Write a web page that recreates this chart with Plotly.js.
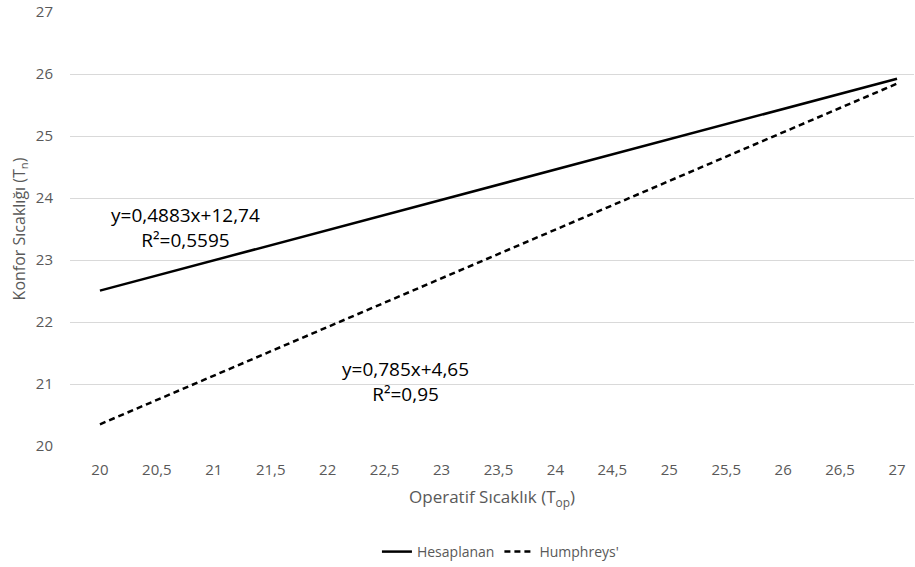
<!DOCTYPE html>
<html>
<head>
<meta charset="utf-8">
<script src="https://cdn.plot.ly/plotly-3.0.1.min.js"></script>
<style>html,body{margin:0;padding:0;background:#fff;}#chart{width:915px;height:567px;}</style>
</head>
<body>
<div id="chart"></div>
<script>
const xValues = [20, 27];
const hesaplanan = [22.506, 25.924];
const humphreys = [20.35, 25.845];
const xTickVals = [20, 20.5, 21, 21.5, 22, 22.5, 23, 23.5, 24, 24.5, 25, 25.5, 26, 26.5, 27];
const xTickText = ["20","20,5","21","21,5","22","22,5","23","23,5","24","24,5","25","25,5","26","26,5","27"];
const yTickVals = [20, 21, 22, 23, 24, 25, 26, 27];
const seriesNames = ["Hesaplanan", "Humphreys'"];
const eqHes = "y=0,4883x+12,74<br>R²=0,5595";
const eqHum = "y=0,785x+4,65<br>R²=0,95";

const font = "'Open Sans', 'Noto Sans', sans-serif";
const traces = [
  {x: xValues, y: hesaplanan, name: seriesNames[0], mode: "lines", line: {color: "#000", width: 2.5}},
  {x: xValues, y: humphreys, name: seriesNames[1], mode: "lines", line: {color: "#000", width: 2.5, dash: "6px,4px"}}
];
const layout = {
  width: 915, height: 567,
  margin: {l: 70, r: 1, t: 12, b: 121},
  paper_bgcolor: "#fff", plot_bgcolor: "#fff",
  font: {family: font, color: "#595959", size: 14},
  separators: ",.",
  showlegend: true,
  legend: {orientation: "h", x: 0.51, xref: "paper", xanchor: "center", y: 15/567, yref: "container", yanchor: "middle",
           font: {size: 14, color: "#595959"}},
  xaxis: {
    range: [19.737, 27.149], tickvals: xTickVals, ticktext: xTickText, automargin: false,
    showgrid: false, zeroline: false, showline: false, ticks: "",
    tickfont: {size: 15, color: "#595959"}, ticklabelstandoff: 13,
    title: {text: "Operatif Sıcaklık (T<sub>op</sub>)", font: {size: 17, color: "#595959"}, standoff: 13}
  },
  yaxis: {
    range: [20, 27], tickvals: yTickVals, automargin: false,
    showgrid: true, gridcolor: "#d9d9d9", gridwidth: 1, zeroline: false, showline: false, ticks: "",
    tickfont: {size: 15, color: "#595959"}, ticklabelstandoff: 16,
    title: {text: "Konfor Sıcaklığı (T<sub>n</sub>)", font: {size: 16, color: "#595959"}, standoff: 6}
  },
  annotations: [
    {x: 20.75, y: 23.52, xref: "x", yref: "y", text: eqHes, showarrow: false,
     font: {family: font, size: 19, color: "#000"}, align: "center"},
    {x: 22.68, y: 21.04, xref: "x", yref: "y", text: eqHum, showarrow: false,
     font: {family: font, size: 19, color: "#000"}, align: "center"}
  ]
};
Plotly.newPlot("chart", traces, layout, {displayModeBar: false, staticPlot: true});
</script>
</body>
</html>
